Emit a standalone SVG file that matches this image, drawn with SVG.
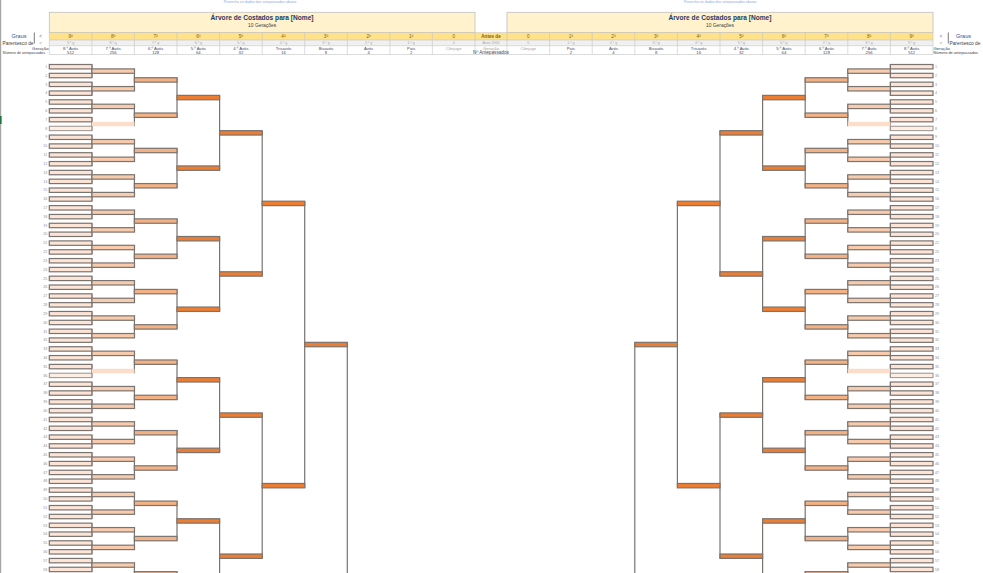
<svg xmlns="http://www.w3.org/2000/svg" xmlns:xlink="http://www.w3.org/1999/xlink" width="983" height="573" viewBox="0 0 983 573">
<style>
text{font-family:"Liberation Sans",Arial,sans-serif}
.bx{stroke:#7a7370;stroke-width:1.2}
.lf{fill:#FCE4D6}
.lt{fill:#FDEDE3;stroke:#9a928f;stroke-width:1}
.g8{fill:#F8CBAD}
.l8{fill:#FBDDC9}
.g7{fill:#F4B183}
.go{fill:#ED7D31}
.nl{font-size:3.6px;fill:#8c8c8c;text-anchor:end}
.nr{font-size:3.6px;fill:#8c8c8c}
.cn{fill:none;stroke:#7a7370;stroke-width:1.2}
.ttl{font-size:6.6px;font-weight:bold;fill:#1F3864;text-anchor:middle}
.sub{font-size:4.9px;fill:#404040;text-anchor:middle}
.cl{font-size:4.6px;fill:#7F6000;text-anchor:middle}
.c2{font-size:3.6px;fill:#A6A6A6;text-anchor:middle}
.c3{font-size:4.2px;fill:#3B4A66;text-anchor:middle}
.gy{fill:#A0A0A0}
.lb{fill:#404040}
.top{font-size:3.6px;fill:#8EA9DB;text-anchor:middle}
</style>
<defs>
<rect id="bx" width="42.6" height="4.41"/>
</defs>
<rect width="983" height="573" fill="#ffffff"/>
<line x1="0.6" y1="0" x2="0.6" y2="573" stroke="#A6A6A6" stroke-width="1.2"/>
<rect x="0" y="116" width="1.6" height="8" fill="#217346"/>
<text class="top" x="260" y="3.4">Preencha os dados dos antepassados abaixo</text>
<text class="top" x="720" y="3.4">Preencha os dados dos antepassados abaixo</text>

<g id="header">
<rect x="49.3" y="12.3" width="425.7" height="20.3" fill="#FFF2CC" stroke="#BFBFBF" stroke-width="0.8"/>
<rect x="507" y="12.3" width="426" height="20.3" fill="#FFF2CC" stroke="#BFBFBF" stroke-width="0.8"/>
<text class="ttl" x="262.1" y="20.3">Árvore de Costados para [Nome]</text>
<text class="sub" x="262.1" y="27">10 Gerações</text>
<text class="ttl" x="720" y="20.3">Árvore de Costados para [Nome]</text>
<text class="sub" x="720" y="27">10 Gerações</text>
<rect x="49.3" y="32.6" width="883.7" height="7.4" fill="#FFE28A"/>
<rect x="49.3" y="40" width="883.7" height="5.7" fill="#F0F0F0"/>
<rect x="49.3" y="45.7" width="883.7" height="8.8" fill="#FFFFFF"/>
<path d="M49.3 32.6H933M49.3 40H933M49.3 45.7H933M49.3 54.5H933M49.3 32.6V54.5M91.9 32.6V54.5M134.4 32.6V54.5M177 32.6V54.5M219.6 32.6V54.5M262.2 32.6V54.5M304.7 32.6V54.5M347.3 32.6V54.5M389.9 32.6V54.5M432.4 32.6V54.5M475 32.6V54.5M507 32.6V54.5M549.6 32.6V54.5M592.2 32.6V54.5M634.8 32.6V54.5M677.4 32.6V54.5M720 32.6V54.5M762.6 32.6V54.5M805.2 32.6V54.5M847.8 32.6V54.5M890.4 32.6V54.5M933 32.6V54.5" fill="none" stroke="#C4C4C4" stroke-width="0.6"/>
<g class="cl">
<text x="70.6" y="38.4">9ª</text><text x="113.2" y="38.4">8ª</text><text x="155.7" y="38.4">7ª</text><text x="198.3" y="38.4">6ª</text><text x="240.9" y="38.4">5ª</text><text x="283.5" y="38.4">4ª</text><text x="326" y="38.4">3ª</text><text x="368.6" y="38.4">2ª</text><text x="411.2" y="38.4">1ª</text><text x="453.7" y="38.4">0</text>
<text x="491" y="38.4" font-weight="bold">Antes de</text>
<text x="528.3" y="38.4">0</text><text x="570.9" y="38.4">1ª</text><text x="613.5" y="38.4">2ª</text><text x="656.1" y="38.4">3ª</text><text x="698.7" y="38.4">4ª</text><text x="741.3" y="38.4">5ª</text><text x="783.9" y="38.4">6ª</text><text x="826.5" y="38.4">7ª</text><text x="869.1" y="38.4">8ª</text><text x="911.7" y="38.4">9ª</text>
</g>
<g class="c2">
<text x="70.6" y="44.2">9.º g</text><text x="113.2" y="44.2">8.º g</text><text x="155.7" y="44.2">7.º g</text><text x="198.3" y="44.2">6.º g</text><text x="240.9" y="44.2">5.º g</text><text x="283.5" y="44.2">4.º g</text><text x="326" y="44.2">3.º g</text><text x="368.6" y="44.2">2.º g</text><text x="411.2" y="44.2">1.º g</text><text x="453.7" y="44.2">0</text>
<text x="491" y="44.2">Anos 1900</text>
<text x="528.3" y="44.2">0</text><text x="570.9" y="44.2">1.º g</text><text x="613.5" y="44.2">2.º g</text><text x="656.1" y="44.2">3.º g</text><text x="698.7" y="44.2">4.º g</text><text x="741.3" y="44.2">5.º g</text><text x="783.9" y="44.2">6.º g</text><text x="826.5" y="44.2">7.º g</text><text x="869.1" y="44.2">8.º g</text><text x="911.7" y="44.2">9.º g</text>
</g>
<g class="c3">
<text x="70.6" y="49.7">8.º Avós</text><text x="70.6" y="53.9">512</text>
<text x="113.2" y="49.7">7.º Avós</text><text x="113.2" y="53.9">256</text>
<text x="155.7" y="49.7">6.º Avós</text><text x="155.7" y="53.9">128</text>
<text x="198.3" y="49.7">5.º Avós</text><text x="198.3" y="53.9">64</text>
<text x="240.9" y="49.7">4.º Avós</text><text x="240.9" y="53.9">32</text>
<text x="283.5" y="49.7">Trisavós</text><text x="283.5" y="53.9">16</text>
<text x="326" y="49.7">Bisavós</text><text x="326" y="53.9">8</text>
<text x="368.6" y="49.7">Avós</text><text x="368.6" y="53.9">4</text>
<text x="411.2" y="49.7">Pais</text><text x="411.2" y="53.9">2</text>
<text x="453.7" y="50.2" class="gy">Cônjuge</text>
<text x="491" y="49.7" class="gy">Geração</text><text x="491" y="54.3" font-size="4.7">Nº Antepassados</text>
<text x="528.3" y="50.2" class="gy">Cônjuge</text>
<text x="570.9" y="49.7">Pais</text><text x="570.9" y="53.9">2</text>
<text x="613.5" y="49.7">Avós</text><text x="613.5" y="53.9">4</text>
<text x="656.1" y="49.7">Bisavós</text><text x="656.1" y="53.9">8</text>
<text x="698.7" y="49.7">Trisavós</text><text x="698.7" y="53.9">16</text>
<text x="741.3" y="49.7">4.º Avós</text><text x="741.3" y="53.9">32</text>
<text x="783.9" y="49.7">5.º Avós</text><text x="783.9" y="53.9">64</text>
<text x="826.5" y="49.7">6.º Avós</text><text x="826.5" y="53.9">128</text>
<text x="869.1" y="49.7">7.º Avós</text><text x="869.1" y="53.9">256</text>
<text x="911.7" y="49.7">8.º Avós</text><text x="911.7" y="53.9">512</text>
</g>
<text x="19" y="37.9" font-size="5.5" fill="#2F5597" text-anchor="middle">Graus</text>
<line x1="34.3" y1="32.5" x2="34.3" y2="43.5" stroke="#595959" stroke-width="0.8"/>
<text x="40.5" y="38" font-size="4.5" fill="#595959" text-anchor="middle">&lt;</text>
<text class="lb" x="33.5" y="44.8" font-size="4.8" text-anchor="end">Parentesco de</text>
<text x="40.5" y="44.8" font-size="4.5" fill="#8c8c8c" text-anchor="middle">&lt;</text>
<text class="lb" x="48.6" y="49.6" font-size="4.3" text-anchor="end">Geração</text>
<text class="lb" x="45" y="53.8" font-size="3.7" text-anchor="end">Número de antepassados</text>
<text x="941" y="38" font-size="4.5" fill="#595959" text-anchor="middle">&lt;</text>
<line x1="948.3" y1="32.5" x2="948.3" y2="43.5" stroke="#595959" stroke-width="0.8"/>
<text x="963.5" y="37.9" font-size="5.5" fill="#2F5597" text-anchor="middle">Graus</text>
<text x="941" y="44.8" font-size="4.5" fill="#8c8c8c" text-anchor="middle">&lt;</text>
<text class="lb" x="949.5" y="44.8" font-size="4.8">Parentesco de</text>
<text class="lb" x="933.5" y="49.6" font-size="4.3">Geração</text>
<text class="lb" x="933.5" y="53.8" font-size="3.9">Número de antepassados</text>
</g>

<g id="connectors">
<path class="cn" d="M91.9 64.5V77.73M91.9 82.14V95.37M91.9 99.78V113.01M91.9 117.42V130.65M91.9 135.06V148.29M91.9 152.7V165.93M91.9 170.34V183.57M91.9 187.98V201.21M91.9 205.62V218.85M91.9 223.26V236.49M91.9 240.9V254.13M91.9 258.54V271.77M91.9 276.18V289.41M91.9 293.82V307.05M91.9 311.46V324.69M91.9 329.1V342.33M91.9 346.74V359.97M91.9 364.38V377.61M91.9 382.02V395.25M91.9 399.66V412.89M91.9 417.3V430.53M91.9 434.94V448.17M91.9 452.58V465.81M91.9 470.22V483.45M91.9 487.86V501.09M91.9 505.5V518.73M91.9 523.14V536.37M91.9 540.78V554.01M91.9 558.42V571.65
M134.4 68.91V90.96M134.4 104.19V126.24M134.4 139.47V161.52M134.4 174.75V196.8M134.4 210.03V232.08M134.4 245.31V267.36M134.4 280.59V302.64M134.4 315.87V337.92M134.4 351.15V373.2M134.4 386.43V408.48M134.4 421.71V443.76M134.4 456.99V479.04M134.4 492.27V514.32M134.4 527.55V549.6M134.4 562.83V580
M177 77.73V117.42M177 148.29V187.98M177 218.85V258.54M177 289.41V329.1M177 359.97V399.66M177 430.53V470.22M177 501.09V540.78M177 571.65V580
M219.6 95.37V170.34M219.6 236.49V311.46M219.6 377.61V452.58M219.6 518.73V580
M262.2 130.65V276.18M262.2 412.89V558.42
M304.7 201.21V487.86
M347.3 342.33V580"/>
<path class="cn" d="M890.4 64.5V77.73M890.4 82.14V95.37M890.4 99.78V113.01M890.4 117.42V130.65M890.4 135.06V148.29M890.4 152.7V165.93M890.4 170.34V183.57M890.4 187.98V201.21M890.4 205.62V218.85M890.4 223.26V236.49M890.4 240.9V254.13M890.4 258.54V271.77M890.4 276.18V289.41M890.4 293.82V307.05M890.4 311.46V324.69M890.4 329.1V342.33M890.4 346.74V359.97M890.4 364.38V377.61M890.4 382.02V395.25M890.4 399.66V412.89M890.4 417.3V430.53M890.4 434.94V448.17M890.4 452.58V465.81M890.4 470.22V483.45M890.4 487.86V501.09M890.4 505.5V518.73M890.4 523.14V536.37M890.4 540.78V554.01M890.4 558.42V571.65
M847.8 68.91V90.96M847.8 104.19V126.24M847.8 139.47V161.52M847.8 174.75V196.8M847.8 210.03V232.08M847.8 245.31V267.36M847.8 280.59V302.64M847.8 315.87V337.92M847.8 351.15V373.2M847.8 386.43V408.48M847.8 421.71V443.76M847.8 456.99V479.04M847.8 492.27V514.32M847.8 527.55V549.6M847.8 562.83V580
M805.2 77.73V117.42M805.2 148.29V187.98M805.2 218.85V258.54M805.2 289.41V329.1M805.2 359.97V399.66M805.2 430.53V470.22M805.2 501.09V540.78M805.2 571.65V580
M762.6 95.37V170.34M762.6 236.49V311.46M762.6 377.61V452.58M762.6 518.73V580
M720 130.65V276.18M720 412.89V558.42
M677.4 201.21V487.86
M634.8 342.33V580"/>
</g>

<g id="left-tree">
<g id="L9-1"><use href="#bx" class="bx lf" x="49.3" y="64.5"/><text class="nl" x="47.3" y="67.9">1</text></g>
<g id="L9-2"><use href="#bx" class="bx lf" x="49.3" y="73.32"/><text class="nl" x="47.3" y="76.72">2</text></g>
<g id="L9-3"><use href="#bx" class="bx lf" x="49.3" y="82.14"/><text class="nl" x="47.3" y="85.54">3</text></g>
<g id="L9-4"><use href="#bx" class="bx lf" x="49.3" y="90.96"/><text class="nl" x="47.3" y="94.36">4</text></g>
<g id="L9-5"><use href="#bx" class="bx lf" x="49.3" y="99.78"/><text class="nl" x="47.3" y="103.18">5</text></g>
<g id="L9-6"><use href="#bx" class="bx lf" x="49.3" y="108.6"/><text class="nl" x="47.3" y="112">6</text></g>
<g id="L9-7"><use href="#bx" class="bx lf" x="49.3" y="117.42"/><text class="nl" x="47.3" y="120.82">7</text></g>
<g id="L9-8"><use href="#bx" class="lt" x="49.3" y="126.24"/><text class="nl" x="47.3" y="129.64">8</text></g>
<g id="L9-9"><use href="#bx" class="bx lf" x="49.3" y="135.06"/><text class="nl" x="47.3" y="138.46">9</text></g>
<g id="L9-10"><use href="#bx" class="bx lf" x="49.3" y="143.88"/><text class="nl" x="47.3" y="147.28">10</text></g>
<g id="L9-11"><use href="#bx" class="bx lf" x="49.3" y="152.7"/><text class="nl" x="47.3" y="156.1">11</text></g>
<g id="L9-12"><use href="#bx" class="bx lf" x="49.3" y="161.52"/><text class="nl" x="47.3" y="164.92">12</text></g>
<g id="L9-13"><use href="#bx" class="bx lf" x="49.3" y="170.34"/><text class="nl" x="47.3" y="173.74">13</text></g>
<g id="L9-14"><use href="#bx" class="bx lf" x="49.3" y="179.16"/><text class="nl" x="47.3" y="182.56">14</text></g>
<g id="L9-15"><use href="#bx" class="bx lf" x="49.3" y="187.98"/><text class="nl" x="47.3" y="191.38">15</text></g>
<g id="L9-16"><use href="#bx" class="bx lf" x="49.3" y="196.8"/><text class="nl" x="47.3" y="200.2">16</text></g>
<g id="L9-17"><use href="#bx" class="bx lf" x="49.3" y="205.62"/><text class="nl" x="47.3" y="209.02">17</text></g>
<g id="L9-18"><use href="#bx" class="bx lf" x="49.3" y="214.44"/><text class="nl" x="47.3" y="217.84">18</text></g>
<g id="L9-19"><use href="#bx" class="bx lf" x="49.3" y="223.26"/><text class="nl" x="47.3" y="226.66">19</text></g>
<g id="L9-20"><use href="#bx" class="bx lf" x="49.3" y="232.08"/><text class="nl" x="47.3" y="235.48">20</text></g>
<g id="L9-21"><use href="#bx" class="bx lf" x="49.3" y="240.9"/><text class="nl" x="47.3" y="244.3">21</text></g>
<g id="L9-22"><use href="#bx" class="bx lf" x="49.3" y="249.72"/><text class="nl" x="47.3" y="253.12">22</text></g>
<g id="L9-23"><use href="#bx" class="bx lf" x="49.3" y="258.54"/><text class="nl" x="47.3" y="261.94">23</text></g>
<g id="L9-24"><use href="#bx" class="bx lf" x="49.3" y="267.36"/><text class="nl" x="47.3" y="270.76">24</text></g>
<g id="L9-25"><use href="#bx" class="bx lf" x="49.3" y="276.18"/><text class="nl" x="47.3" y="279.58">25</text></g>
<g id="L9-26"><use href="#bx" class="bx lf" x="49.3" y="285"/><text class="nl" x="47.3" y="288.4">26</text></g>
<g id="L9-27"><use href="#bx" class="bx lf" x="49.3" y="293.82"/><text class="nl" x="47.3" y="297.22">27</text></g>
<g id="L9-28"><use href="#bx" class="bx lf" x="49.3" y="302.64"/><text class="nl" x="47.3" y="306.04">28</text></g>
<g id="L9-29"><use href="#bx" class="bx lf" x="49.3" y="311.46"/><text class="nl" x="47.3" y="314.86">29</text></g>
<g id="L9-30"><use href="#bx" class="bx lf" x="49.3" y="320.28"/><text class="nl" x="47.3" y="323.68">30</text></g>
<g id="L9-31"><use href="#bx" class="bx lf" x="49.3" y="329.1"/><text class="nl" x="47.3" y="332.5">31</text></g>
<g id="L9-32"><use href="#bx" class="bx lf" x="49.3" y="337.92"/><text class="nl" x="47.3" y="341.32">32</text></g>
<g id="L9-33"><use href="#bx" class="bx lf" x="49.3" y="346.74"/><text class="nl" x="47.3" y="350.14">33</text></g>
<g id="L9-34"><use href="#bx" class="bx lf" x="49.3" y="355.56"/><text class="nl" x="47.3" y="358.96">34</text></g>
<g id="L9-35"><use href="#bx" class="bx lf" x="49.3" y="364.38"/><text class="nl" x="47.3" y="367.78">35</text></g>
<g id="L9-36"><use href="#bx" class="lt" x="49.3" y="373.2"/><text class="nl" x="47.3" y="376.6">36</text></g>
<g id="L9-37"><use href="#bx" class="bx lf" x="49.3" y="382.02"/><text class="nl" x="47.3" y="385.42">37</text></g>
<g id="L9-38"><use href="#bx" class="bx lf" x="49.3" y="390.84"/><text class="nl" x="47.3" y="394.24">38</text></g>
<g id="L9-39"><use href="#bx" class="bx lf" x="49.3" y="399.66"/><text class="nl" x="47.3" y="403.06">39</text></g>
<g id="L9-40"><use href="#bx" class="bx lf" x="49.3" y="408.48"/><text class="nl" x="47.3" y="411.88">40</text></g>
<g id="L9-41"><use href="#bx" class="bx lf" x="49.3" y="417.3"/><text class="nl" x="47.3" y="420.7">41</text></g>
<g id="L9-42"><use href="#bx" class="bx lf" x="49.3" y="426.12"/><text class="nl" x="47.3" y="429.52">42</text></g>
<g id="L9-43"><use href="#bx" class="bx lf" x="49.3" y="434.94"/><text class="nl" x="47.3" y="438.34">43</text></g>
<g id="L9-44"><use href="#bx" class="bx lf" x="49.3" y="443.76"/><text class="nl" x="47.3" y="447.16">44</text></g>
<g id="L9-45"><use href="#bx" class="bx lf" x="49.3" y="452.58"/><text class="nl" x="47.3" y="455.98">45</text></g>
<g id="L9-46"><use href="#bx" class="bx lf" x="49.3" y="461.4"/><text class="nl" x="47.3" y="464.8">46</text></g>
<g id="L9-47"><use href="#bx" class="bx lf" x="49.3" y="470.22"/><text class="nl" x="47.3" y="473.62">47</text></g>
<g id="L9-48"><use href="#bx" class="bx lf" x="49.3" y="479.04"/><text class="nl" x="47.3" y="482.44">48</text></g>
<g id="L9-49"><use href="#bx" class="bx lf" x="49.3" y="487.86"/><text class="nl" x="47.3" y="491.26">49</text></g>
<g id="L9-50"><use href="#bx" class="bx lf" x="49.3" y="496.68"/><text class="nl" x="47.3" y="500.08">50</text></g>
<g id="L9-51"><use href="#bx" class="bx lf" x="49.3" y="505.5"/><text class="nl" x="47.3" y="508.9">51</text></g>
<g id="L9-52"><use href="#bx" class="bx lf" x="49.3" y="514.32"/><text class="nl" x="47.3" y="517.72">52</text></g>
<g id="L9-53"><use href="#bx" class="bx lf" x="49.3" y="523.14"/><text class="nl" x="47.3" y="526.54">53</text></g>
<g id="L9-54"><use href="#bx" class="bx lf" x="49.3" y="531.96"/><text class="nl" x="47.3" y="535.36">54</text></g>
<g id="L9-55"><use href="#bx" class="bx lf" x="49.3" y="540.78"/><text class="nl" x="47.3" y="544.18">55</text></g>
<g id="L9-56"><use href="#bx" class="bx lf" x="49.3" y="549.6"/><text class="nl" x="47.3" y="553">56</text></g>
<g id="L9-57"><use href="#bx" class="bx lf" x="49.3" y="558.42"/><text class="nl" x="47.3" y="561.82">57</text></g>
<g id="L9-58"><use href="#bx" class="bx lf" x="49.3" y="567.24"/><text class="nl" x="47.3" y="570.64">58</text></g>

<g id="L8-1"><use href="#bx" class="bx g8" x="91.9" y="68.91"/></g>
<g id="L8-2"><use href="#bx" class="bx g8" x="91.9" y="86.55"/></g>
<g id="L8-3"><use href="#bx" class="bx g8" x="91.9" y="104.19"/></g>
<g id="L8-4"><use href="#bx" class="l8" x="91.9" y="121.83"/></g>
<g id="L8-5"><use href="#bx" class="bx g8" x="91.9" y="139.47"/></g>
<g id="L8-6"><use href="#bx" class="bx g8" x="91.9" y="157.11"/></g>
<g id="L8-7"><use href="#bx" class="bx g8" x="91.9" y="174.75"/></g>
<g id="L8-8"><use href="#bx" class="bx g8" x="91.9" y="192.39"/></g>
<g id="L8-9"><use href="#bx" class="bx g8" x="91.9" y="210.03"/></g>
<g id="L8-10"><use href="#bx" class="bx g8" x="91.9" y="227.67"/></g>
<g id="L8-11"><use href="#bx" class="bx g8" x="91.9" y="245.31"/></g>
<g id="L8-12"><use href="#bx" class="bx g8" x="91.9" y="262.95"/></g>
<g id="L8-13"><use href="#bx" class="bx g8" x="91.9" y="280.59"/></g>
<g id="L8-14"><use href="#bx" class="bx g8" x="91.9" y="298.23"/></g>
<g id="L8-15"><use href="#bx" class="bx g8" x="91.9" y="315.87"/></g>
<g id="L8-16"><use href="#bx" class="bx g8" x="91.9" y="333.51"/></g>
<g id="L8-17"><use href="#bx" class="bx g8" x="91.9" y="351.15"/></g>
<g id="L8-18"><use href="#bx" class="l8" x="91.9" y="368.79"/></g>
<g id="L8-19"><use href="#bx" class="bx g8" x="91.9" y="386.43"/></g>
<g id="L8-20"><use href="#bx" class="bx g8" x="91.9" y="404.07"/></g>
<g id="L8-21"><use href="#bx" class="bx g8" x="91.9" y="421.71"/></g>
<g id="L8-22"><use href="#bx" class="bx g8" x="91.9" y="439.35"/></g>
<g id="L8-23"><use href="#bx" class="bx g8" x="91.9" y="456.99"/></g>
<g id="L8-24"><use href="#bx" class="bx g8" x="91.9" y="474.63"/></g>
<g id="L8-25"><use href="#bx" class="bx g8" x="91.9" y="492.27"/></g>
<g id="L8-26"><use href="#bx" class="bx g8" x="91.9" y="509.91"/></g>
<g id="L8-27"><use href="#bx" class="bx g8" x="91.9" y="527.55"/></g>
<g id="L8-28"><use href="#bx" class="bx g8" x="91.9" y="545.19"/></g>
<g id="L8-29"><use href="#bx" class="bx g8" x="91.9" y="562.83"/></g>

<g id="L7-1"><use href="#bx" class="bx g7" x="134.4" y="77.73"/></g>
<g id="L7-2"><use href="#bx" class="bx g7" x="134.4" y="113.01"/></g>
<g id="L7-3"><use href="#bx" class="bx g7" x="134.4" y="148.29"/></g>
<g id="L7-4"><use href="#bx" class="bx g7" x="134.4" y="183.57"/></g>
<g id="L7-5"><use href="#bx" class="bx g7" x="134.4" y="218.85"/></g>
<g id="L7-6"><use href="#bx" class="bx g7" x="134.4" y="254.13"/></g>
<g id="L7-7"><use href="#bx" class="bx g7" x="134.4" y="289.41"/></g>
<g id="L7-8"><use href="#bx" class="bx g7" x="134.4" y="324.69"/></g>
<g id="L7-9"><use href="#bx" class="bx g7" x="134.4" y="359.97"/></g>
<g id="L7-10"><use href="#bx" class="bx g7" x="134.4" y="395.25"/></g>
<g id="L7-11"><use href="#bx" class="bx g7" x="134.4" y="430.53"/></g>
<g id="L7-12"><use href="#bx" class="bx g7" x="134.4" y="465.81"/></g>
<g id="L7-13"><use href="#bx" class="bx g7" x="134.4" y="501.09"/></g>
<g id="L7-14"><use href="#bx" class="bx g7" x="134.4" y="536.37"/></g>
<g id="L7-15"><use href="#bx" class="bx g7" x="134.4" y="571.65"/></g>

<g id="L6-1"><use href="#bx" class="bx go" x="177" y="95.37"/></g>
<g id="L6-2"><use href="#bx" class="bx go" x="177" y="165.93"/></g>
<g id="L6-3"><use href="#bx" class="bx go" x="177" y="236.49"/></g>
<g id="L6-4"><use href="#bx" class="bx go" x="177" y="307.05"/></g>
<g id="L6-5"><use href="#bx" class="bx go" x="177" y="377.61"/></g>
<g id="L6-6"><use href="#bx" class="bx go" x="177" y="448.17"/></g>
<g id="L6-7"><use href="#bx" class="bx go" x="177" y="518.73"/></g>

<g id="L5-1"><use href="#bx" class="bx go" x="219.6" y="130.65"/></g>
<g id="L5-2"><use href="#bx" class="bx go" x="219.6" y="271.77"/></g>
<g id="L5-3"><use href="#bx" class="bx go" x="219.6" y="412.89"/></g>
<g id="L5-4"><use href="#bx" class="bx go" x="219.6" y="554.01"/></g>

<g id="L4-1"><use href="#bx" class="bx go" x="262.2" y="201.21"/></g>
<g id="L4-2"><use href="#bx" class="bx go" x="262.2" y="483.45"/></g>

<g id="L3-1"><use href="#bx" class="bx go" x="304.7" y="342.33"/></g>
</g>

<g id="right-tree">
<g id="R9-1"><use href="#bx" class="bx lf" x="890.4" y="64.5"/><text class="nr" x="935" y="67.9">1</text></g>
<g id="R9-2"><use href="#bx" class="bx lf" x="890.4" y="73.32"/><text class="nr" x="935" y="76.72">2</text></g>
<g id="R9-3"><use href="#bx" class="bx lf" x="890.4" y="82.14"/><text class="nr" x="935" y="85.54">3</text></g>
<g id="R9-4"><use href="#bx" class="bx lf" x="890.4" y="90.96"/><text class="nr" x="935" y="94.36">4</text></g>
<g id="R9-5"><use href="#bx" class="bx lf" x="890.4" y="99.78"/><text class="nr" x="935" y="103.18">5</text></g>
<g id="R9-6"><use href="#bx" class="bx lf" x="890.4" y="108.6"/><text class="nr" x="935" y="112">6</text></g>
<g id="R9-7"><use href="#bx" class="bx lf" x="890.4" y="117.42"/><text class="nr" x="935" y="120.82">7</text></g>
<g id="R9-8"><use href="#bx" class="lt" x="890.4" y="126.24"/><text class="nr" x="935" y="129.64">8</text></g>
<g id="R9-9"><use href="#bx" class="bx lf" x="890.4" y="135.06"/><text class="nr" x="935" y="138.46">9</text></g>
<g id="R9-10"><use href="#bx" class="bx lf" x="890.4" y="143.88"/><text class="nr" x="935" y="147.28">10</text></g>
<g id="R9-11"><use href="#bx" class="bx lf" x="890.4" y="152.7"/><text class="nr" x="935" y="156.1">11</text></g>
<g id="R9-12"><use href="#bx" class="bx lf" x="890.4" y="161.52"/><text class="nr" x="935" y="164.92">12</text></g>
<g id="R9-13"><use href="#bx" class="bx lf" x="890.4" y="170.34"/><text class="nr" x="935" y="173.74">13</text></g>
<g id="R9-14"><use href="#bx" class="bx lf" x="890.4" y="179.16"/><text class="nr" x="935" y="182.56">14</text></g>
<g id="R9-15"><use href="#bx" class="bx lf" x="890.4" y="187.98"/><text class="nr" x="935" y="191.38">15</text></g>
<g id="R9-16"><use href="#bx" class="bx lf" x="890.4" y="196.8"/><text class="nr" x="935" y="200.2">16</text></g>
<g id="R9-17"><use href="#bx" class="bx lf" x="890.4" y="205.62"/><text class="nr" x="935" y="209.02">17</text></g>
<g id="R9-18"><use href="#bx" class="bx lf" x="890.4" y="214.44"/><text class="nr" x="935" y="217.84">18</text></g>
<g id="R9-19"><use href="#bx" class="bx lf" x="890.4" y="223.26"/><text class="nr" x="935" y="226.66">19</text></g>
<g id="R9-20"><use href="#bx" class="bx lf" x="890.4" y="232.08"/><text class="nr" x="935" y="235.48">20</text></g>
<g id="R9-21"><use href="#bx" class="bx lf" x="890.4" y="240.9"/><text class="nr" x="935" y="244.3">21</text></g>
<g id="R9-22"><use href="#bx" class="bx lf" x="890.4" y="249.72"/><text class="nr" x="935" y="253.12">22</text></g>
<g id="R9-23"><use href="#bx" class="bx lf" x="890.4" y="258.54"/><text class="nr" x="935" y="261.94">23</text></g>
<g id="R9-24"><use href="#bx" class="bx lf" x="890.4" y="267.36"/><text class="nr" x="935" y="270.76">24</text></g>
<g id="R9-25"><use href="#bx" class="bx lf" x="890.4" y="276.18"/><text class="nr" x="935" y="279.58">25</text></g>
<g id="R9-26"><use href="#bx" class="bx lf" x="890.4" y="285"/><text class="nr" x="935" y="288.4">26</text></g>
<g id="R9-27"><use href="#bx" class="bx lf" x="890.4" y="293.82"/><text class="nr" x="935" y="297.22">27</text></g>
<g id="R9-28"><use href="#bx" class="bx lf" x="890.4" y="302.64"/><text class="nr" x="935" y="306.04">28</text></g>
<g id="R9-29"><use href="#bx" class="bx lf" x="890.4" y="311.46"/><text class="nr" x="935" y="314.86">29</text></g>
<g id="R9-30"><use href="#bx" class="bx lf" x="890.4" y="320.28"/><text class="nr" x="935" y="323.68">30</text></g>
<g id="R9-31"><use href="#bx" class="bx lf" x="890.4" y="329.1"/><text class="nr" x="935" y="332.5">31</text></g>
<g id="R9-32"><use href="#bx" class="bx lf" x="890.4" y="337.92"/><text class="nr" x="935" y="341.32">32</text></g>
<g id="R9-33"><use href="#bx" class="bx lf" x="890.4" y="346.74"/><text class="nr" x="935" y="350.14">33</text></g>
<g id="R9-34"><use href="#bx" class="bx lf" x="890.4" y="355.56"/><text class="nr" x="935" y="358.96">34</text></g>
<g id="R9-35"><use href="#bx" class="bx lf" x="890.4" y="364.38"/><text class="nr" x="935" y="367.78">35</text></g>
<g id="R9-36"><use href="#bx" class="lt" x="890.4" y="373.2"/><text class="nr" x="935" y="376.6">36</text></g>
<g id="R9-37"><use href="#bx" class="bx lf" x="890.4" y="382.02"/><text class="nr" x="935" y="385.42">37</text></g>
<g id="R9-38"><use href="#bx" class="bx lf" x="890.4" y="390.84"/><text class="nr" x="935" y="394.24">38</text></g>
<g id="R9-39"><use href="#bx" class="bx lf" x="890.4" y="399.66"/><text class="nr" x="935" y="403.06">39</text></g>
<g id="R9-40"><use href="#bx" class="bx lf" x="890.4" y="408.48"/><text class="nr" x="935" y="411.88">40</text></g>
<g id="R9-41"><use href="#bx" class="bx lf" x="890.4" y="417.3"/><text class="nr" x="935" y="420.7">41</text></g>
<g id="R9-42"><use href="#bx" class="bx lf" x="890.4" y="426.12"/><text class="nr" x="935" y="429.52">42</text></g>
<g id="R9-43"><use href="#bx" class="bx lf" x="890.4" y="434.94"/><text class="nr" x="935" y="438.34">43</text></g>
<g id="R9-44"><use href="#bx" class="bx lf" x="890.4" y="443.76"/><text class="nr" x="935" y="447.16">44</text></g>
<g id="R9-45"><use href="#bx" class="bx lf" x="890.4" y="452.58"/><text class="nr" x="935" y="455.98">45</text></g>
<g id="R9-46"><use href="#bx" class="bx lf" x="890.4" y="461.4"/><text class="nr" x="935" y="464.8">46</text></g>
<g id="R9-47"><use href="#bx" class="bx lf" x="890.4" y="470.22"/><text class="nr" x="935" y="473.62">47</text></g>
<g id="R9-48"><use href="#bx" class="bx lf" x="890.4" y="479.04"/><text class="nr" x="935" y="482.44">48</text></g>
<g id="R9-49"><use href="#bx" class="bx lf" x="890.4" y="487.86"/><text class="nr" x="935" y="491.26">49</text></g>
<g id="R9-50"><use href="#bx" class="bx lf" x="890.4" y="496.68"/><text class="nr" x="935" y="500.08">50</text></g>
<g id="R9-51"><use href="#bx" class="bx lf" x="890.4" y="505.5"/><text class="nr" x="935" y="508.9">51</text></g>
<g id="R9-52"><use href="#bx" class="bx lf" x="890.4" y="514.32"/><text class="nr" x="935" y="517.72">52</text></g>
<g id="R9-53"><use href="#bx" class="bx lf" x="890.4" y="523.14"/><text class="nr" x="935" y="526.54">53</text></g>
<g id="R9-54"><use href="#bx" class="bx lf" x="890.4" y="531.96"/><text class="nr" x="935" y="535.36">54</text></g>
<g id="R9-55"><use href="#bx" class="bx lf" x="890.4" y="540.78"/><text class="nr" x="935" y="544.18">55</text></g>
<g id="R9-56"><use href="#bx" class="bx lf" x="890.4" y="549.6"/><text class="nr" x="935" y="553">56</text></g>
<g id="R9-57"><use href="#bx" class="bx lf" x="890.4" y="558.42"/><text class="nr" x="935" y="561.82">57</text></g>
<g id="R9-58"><use href="#bx" class="bx lf" x="890.4" y="567.24"/><text class="nr" x="935" y="570.64">58</text></g>

<g id="R8-1"><use href="#bx" class="bx g8" x="847.8" y="68.91"/></g>
<g id="R8-2"><use href="#bx" class="bx g8" x="847.8" y="86.55"/></g>
<g id="R8-3"><use href="#bx" class="bx g8" x="847.8" y="104.19"/></g>
<g id="R8-4"><use href="#bx" class="l8" x="847.8" y="121.83"/></g>
<g id="R8-5"><use href="#bx" class="bx g8" x="847.8" y="139.47"/></g>
<g id="R8-6"><use href="#bx" class="bx g8" x="847.8" y="157.11"/></g>
<g id="R8-7"><use href="#bx" class="bx g8" x="847.8" y="174.75"/></g>
<g id="R8-8"><use href="#bx" class="bx g8" x="847.8" y="192.39"/></g>
<g id="R8-9"><use href="#bx" class="bx g8" x="847.8" y="210.03"/></g>
<g id="R8-10"><use href="#bx" class="bx g8" x="847.8" y="227.67"/></g>
<g id="R8-11"><use href="#bx" class="bx g8" x="847.8" y="245.31"/></g>
<g id="R8-12"><use href="#bx" class="bx g8" x="847.8" y="262.95"/></g>
<g id="R8-13"><use href="#bx" class="bx g8" x="847.8" y="280.59"/></g>
<g id="R8-14"><use href="#bx" class="bx g8" x="847.8" y="298.23"/></g>
<g id="R8-15"><use href="#bx" class="bx g8" x="847.8" y="315.87"/></g>
<g id="R8-16"><use href="#bx" class="bx g8" x="847.8" y="333.51"/></g>
<g id="R8-17"><use href="#bx" class="bx g8" x="847.8" y="351.15"/></g>
<g id="R8-18"><use href="#bx" class="l8" x="847.8" y="368.79"/></g>
<g id="R8-19"><use href="#bx" class="bx g8" x="847.8" y="386.43"/></g>
<g id="R8-20"><use href="#bx" class="bx g8" x="847.8" y="404.07"/></g>
<g id="R8-21"><use href="#bx" class="bx g8" x="847.8" y="421.71"/></g>
<g id="R8-22"><use href="#bx" class="bx g8" x="847.8" y="439.35"/></g>
<g id="R8-23"><use href="#bx" class="bx g8" x="847.8" y="456.99"/></g>
<g id="R8-24"><use href="#bx" class="bx g8" x="847.8" y="474.63"/></g>
<g id="R8-25"><use href="#bx" class="bx g8" x="847.8" y="492.27"/></g>
<g id="R8-26"><use href="#bx" class="bx g8" x="847.8" y="509.91"/></g>
<g id="R8-27"><use href="#bx" class="bx g8" x="847.8" y="527.55"/></g>
<g id="R8-28"><use href="#bx" class="bx g8" x="847.8" y="545.19"/></g>
<g id="R8-29"><use href="#bx" class="bx g8" x="847.8" y="562.83"/></g>

<g id="R7-1"><use href="#bx" class="bx g7" x="805.2" y="77.73"/></g>
<g id="R7-2"><use href="#bx" class="bx g7" x="805.2" y="113.01"/></g>
<g id="R7-3"><use href="#bx" class="bx g7" x="805.2" y="148.29"/></g>
<g id="R7-4"><use href="#bx" class="bx g7" x="805.2" y="183.57"/></g>
<g id="R7-5"><use href="#bx" class="bx g7" x="805.2" y="218.85"/></g>
<g id="R7-6"><use href="#bx" class="bx g7" x="805.2" y="254.13"/></g>
<g id="R7-7"><use href="#bx" class="bx g7" x="805.2" y="289.41"/></g>
<g id="R7-8"><use href="#bx" class="bx g7" x="805.2" y="324.69"/></g>
<g id="R7-9"><use href="#bx" class="bx g7" x="805.2" y="359.97"/></g>
<g id="R7-10"><use href="#bx" class="bx g7" x="805.2" y="395.25"/></g>
<g id="R7-11"><use href="#bx" class="bx g7" x="805.2" y="430.53"/></g>
<g id="R7-12"><use href="#bx" class="bx g7" x="805.2" y="465.81"/></g>
<g id="R7-13"><use href="#bx" class="bx g7" x="805.2" y="501.09"/></g>
<g id="R7-14"><use href="#bx" class="bx g7" x="805.2" y="536.37"/></g>
<g id="R7-15"><use href="#bx" class="bx g7" x="805.2" y="571.65"/></g>

<g id="R6-1"><use href="#bx" class="bx go" x="762.6" y="95.37"/></g>
<g id="R6-2"><use href="#bx" class="bx go" x="762.6" y="165.93"/></g>
<g id="R6-3"><use href="#bx" class="bx go" x="762.6" y="236.49"/></g>
<g id="R6-4"><use href="#bx" class="bx go" x="762.6" y="307.05"/></g>
<g id="R6-5"><use href="#bx" class="bx go" x="762.6" y="377.61"/></g>
<g id="R6-6"><use href="#bx" class="bx go" x="762.6" y="448.17"/></g>
<g id="R6-7"><use href="#bx" class="bx go" x="762.6" y="518.73"/></g>

<g id="R5-1"><use href="#bx" class="bx go" x="720" y="130.65"/></g>
<g id="R5-2"><use href="#bx" class="bx go" x="720" y="271.77"/></g>
<g id="R5-3"><use href="#bx" class="bx go" x="720" y="412.89"/></g>
<g id="R5-4"><use href="#bx" class="bx go" x="720" y="554.01"/></g>

<g id="R4-1"><use href="#bx" class="bx go" x="677.4" y="201.21"/></g>
<g id="R4-2"><use href="#bx" class="bx go" x="677.4" y="483.45"/></g>

<g id="R3-1"><use href="#bx" class="bx go" x="634.8" y="342.33"/></g>
</g>
</svg>
